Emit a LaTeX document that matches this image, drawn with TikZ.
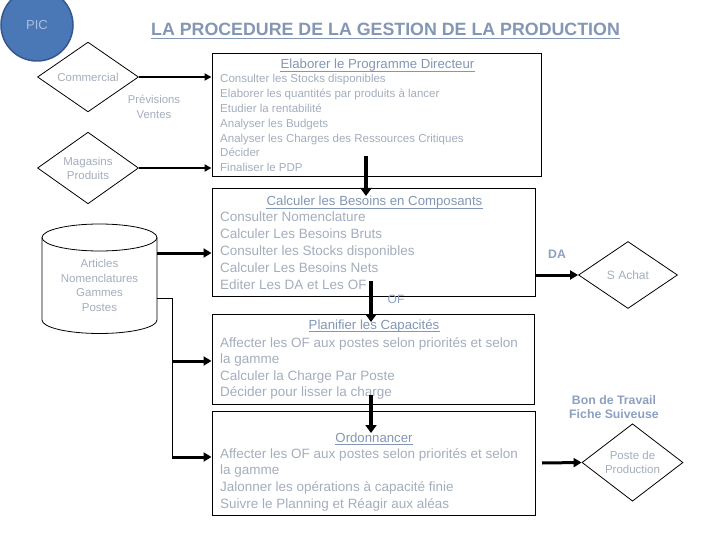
\documentclass[tikz,border=0pt]{standalone}
\usepackage{fontspec}
\setmainfont{Liberation Sans}
\usetikzlibrary{arrows.meta,shapes.geometric,calc}
\definecolor{txt}{RGB}{163,173,188}
\definecolor{ttlc}{RGB}{131,150,180}
\definecolor{lblc}{RGB}{140,160,192}
\definecolor{picfill}{RGB}{74,119,181}
\definecolor{picdraw}{RGB}{52,88,142}
\definecolor{pictxt}{RGB}{170,190,222}
\tikzset{
  box/.style={draw=black, line width=1pt, rectangle, inner sep=0pt},
  diam/.style={draw=black, line width=0.8pt, diamond, inner sep=0pt, align=center, text=txt, font=\fontsize{11.5}{14}\selectfont},
  bodyA/.style={inner sep=0pt, text=txt, font=\fontsize{11.5}{14}\selectfont, anchor=base west},
  bodyB/.style={inner sep=0pt, text=txt, font=\fontsize{13.5}{16}\selectfont, anchor=base west},
  boxtitle/.style={inner sep=0pt, text=ttlc, font=\fontsize{13.2}{16}\selectfont, anchor=base},
  ulline/.style={draw=ttlc, line width=0.9pt},
  arr/.style={line width=2pt, -{Triangle[length=7pt,width=7pt]}},
  arrm/.style={line width=3pt, -{Triangle[length=8pt,width=9pt]}},
  fat/.style={line width=4pt, -{Triangle[length=8pt,width=11pt]}},
  link/.style={line width=1pt},
  lbl/.style={inner sep=0pt, text=lblc, font=\bfseries\fontsize{12.3}{14}\selectfont, align=center}
}
\begin{document}
\begin{tikzpicture}[x=1pt,y=-1pt]
\useasboundingbox (0,0) rectangle (720,540);

% PIC circle
\node[circle, fill=picfill, draw=picdraw, line width=1.5pt, minimum size=72pt, inner sep=0pt, text=pictxt, font=\fontsize{13}{15}\selectfont] (pic) at (37,25) {PIC};

% main title
\node[inner sep=0pt, anchor=base, text=ttlc, font=\bfseries\fontsize{17.8}{20}\selectfont] (title) at (385.5,36) {LA PROCEDURE DE LA GESTION DE LA PRODUCTION};
\draw[ulline, line width=1.3pt] ([yshift=-2.3pt]title.base west) -- ([yshift=-2.3pt]title.base east);

% boxes
\node[box, minimum width=329pt, minimum height=123pt] (b1) at (376.5,115.5) {};
\node[box, minimum width=323pt, minimum height=107pt] (b2) at (373.5,242.5) {};
\node[box, minimum width=322pt, minimum height=90pt] (b3) at (373,359) {};
\node[box, minimum width=323pt, minimum height=104pt] (b4) at (373.5,463) {};

% box 1 text
\node[boxtitle] (t1) at (377.5,69) {Elaborer le Programme Directeur};
\draw[ulline] ([yshift=-2pt]t1.base west) -- ([yshift=-2pt]t1.base east);
\foreach \yy/\tt [count=\k] in {83/Consulter les Stocks disponibles,
  97.8/Elaborer les quantités par produits à lancer,
  112.6/Etudier la rentabilité,
  127.4/Analyser les Budgets,
  142.2/Analyser les Charges des Ressources Critiques,
  157/Décider,
  171.8/Finaliser le PDP}
  \node[bodyA] (bA\k) at (220,\yy) {\tt};

% box 2 text
\node[boxtitle] (t2) at (374.5,206) {Calculer les Besoins en Composants};
\draw[ulline] ([yshift=-2pt]t2.base west) -- ([yshift=-2pt]t2.base east);
\foreach \yy/\tt [count=\k] in {222/Consulter Nomenclature,
  238.75/Calculer Les Besoins Bruts,
  255.5/Consulter les Stocks disponibles,
  272.25/Calculer Les Besoins Nets,
  289/Editer Les DA et Les OF}
  \node[bodyB] (bB\k) at (220,\yy) {\tt};

% box 3 text
\node[boxtitle] (t3) at (374,329) {Planifier les Capacités};
\draw[ulline] ([yshift=-2pt]t3.base west) -- ([yshift=-2pt]t3.base east);
\foreach \yy/\tt [count=\k] in {347/Affecter les OF aux postes selon priorités et selon,
  363.5/la gamme,
  380/Calculer la Charge Par Poste,
  396.5/Décider pour lisser la charge}
  \node[bodyB] (bC\k) at (220,\yy) {\tt};

% box 4 text
\node[boxtitle] (t4) at (374,442) {Ordonnancer};
\draw[ulline] ([yshift=-2pt]t4.base west) -- ([yshift=-2pt]t4.base east);
\foreach \yy/\tt [count=\k] in {458/Affecter les OF aux postes selon priorités et selon,
  474.7/la gamme,
  491.4/Jalonner les opérations à capacité finie,
  508/Suivre le Planning et Réagir aux aléas}
  \node[bodyB] (bD\k) at (220,\yy) {\tt};

% diamonds
\node[diam, minimum width=101pt, minimum height=67pt] (d1) at (88,77) {Commercial};
\node[diam, minimum width=101pt, minimum height=67pt] (d2) at (88,168) {Magasins\\Produits};
\node[diam, minimum width=99pt, minimum height=67pt, font=\fontsize{12}{14}\selectfont] (d3) at (628,275) {S Achat};
\node[diam, minimum width=101pt, minimum height=69pt] (d4) at (632.5,462.5) {Poste de\\Production};

% previsions label
\node[inner sep=0pt, text=txt, align=center, font=\fontsize{11.3}{15}\selectfont] (prev) at (154,106.5) {Prévisions\\Ventes};

% cylinder
\draw[line width=0.8pt] (42,237.5) -- (42,320) arc[start angle=180, end angle=360, x radius=57.5pt, y radius=13.5pt] -- (157,237.5);
\draw[line width=0.8pt] (99.5,237.5) ellipse [x radius=57.5pt, y radius=13.5pt];
\node[inner sep=0pt, text=txt, align=center, font=\fontsize{11.5}{14.7}\selectfont] (cyl) at (99.5,285.5) {Articles\\Nomenclatures\\Gammes\\Postes};

% coordinates
\coordinate (cylA) at (157,253);
\coordinate (cylB) at (157,298);
\coordinate (j1) at (172,298);
\coordinate (j2) at (172,457);
\coordinate (j3) at (172,361);
\coordinate (p1) at (366,156);
\coordinate (q1) at (366,196);
\coordinate (p2) at (371,281);
\coordinate (q2) at (371,322);
\coordinate (p3) at (371,395);
\coordinate (q3) at (371,433);
\coordinate (da) at (535,275);
\coordinate (p4) at (542,463);

% connectors
\draw[arr] (d1.east) -- (d1.east -| b1.west);
\draw[arr] (d2.east) -- (d2.east -| b1.west);
\draw[fat] (p1) -- (q1);
\draw[arrm] (cylA) -- (cylA -| b2.west);
\draw[link] (cylB) -- (j1) -- (j2);
\draw[arrm] (j3) -- (j3 -| b3.west);
\draw[arrm] (j2) -- (j2 -| b4.west);
\draw[fat] (p2) -- (q2);
\draw[fat] (p3) -- (q3);
\draw[arrm] (da) -- (d3.west);
\draw[arrm] (p4) -- (d4.west);

% labels
\node[lbl] (daL) at (557,254) {DA};
\node[inner sep=0pt, text=lblc, font=\fontsize{12}{14}\selectfont] (ofL) at (396,299) {OF};
\node[lbl] (bon) at (614,407) {Bon de Travail\\Fiche Suiveuse};
\end{tikzpicture}
\end{document}
